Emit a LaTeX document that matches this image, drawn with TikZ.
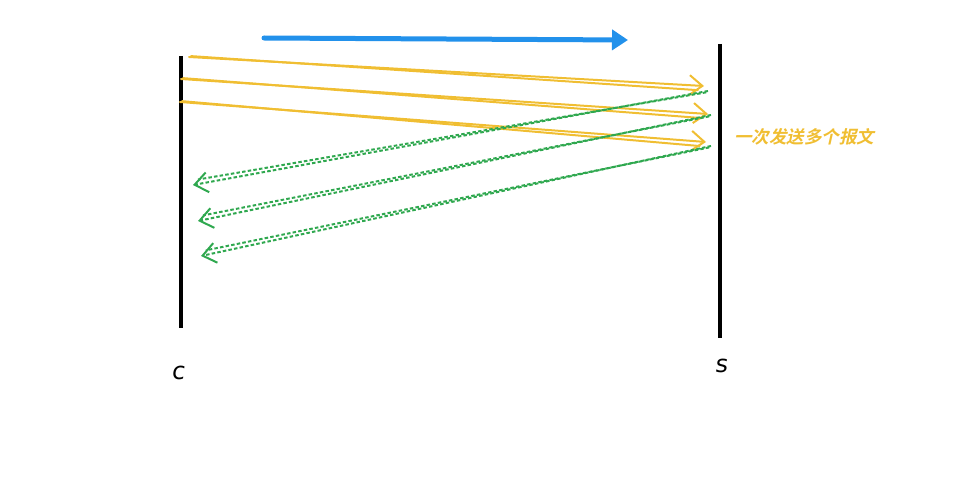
\documentclass[tikz,border=0pt]{standalone}
\usepackage{fontspec}
\usepackage{tikz}
\usetikzlibrary{arrows.meta,calc}
\newfontfamily\cjkfont[FakeSlant=0.22]{Noto Sans CJK SC Bold}
\newfontfamily\handfont[FakeSlant=0.12]{DejaVu Sans}
\definecolor{reqcol}{HTML}{F0BE32}
\definecolor{ackcol}{HTML}{2FA84F}
\definecolor{dircol}{HTML}{2291EB}
\tikzset{
  lifeline/.style={draw=black, line width=3.6pt},
  endlabel/.style={font=\handfont\fontsize{24}{26}\selectfont, inner sep=0pt},
  note/.style  ={font=\cjkfont\fontsize{17.5}{20}\selectfont, text=reqcol, inner sep=0pt},
  dirarrow/.style={draw=dircol, line width=5pt, line cap=round,
                 -{Triangle[length=16pt,width=20pt]}},
  req/.style   ={draw=reqcol, line width=2pt, line cap=round},
  ack/.style   ={draw=ackcol, line width=2pt, dash pattern=on 3.5pt off 2.2pt},
  barb/.style  ={-{Straight Barb[length=13pt,width=20pt]}},
}
% each message is drawn twice, a little apart, like a hand stroke
\newcommand{\sketcharrow}[3]{%
  \draw[#1,barb] (#2) -- (#3);
  \draw[#1] ($(#2)!2pt!(#3)!1pt!90:(#3)$) -- ($(#3)!6pt!(#2)!4.5pt!90:(#2)$);}
\def\reqlist{1/189/57/704/86, 2/181/79/708/114, 3/180/102/706/142}
\def\acklist{1/708/91/193/185, 2/711/115/198/221, 3/711/146/201/256}
\begin{document}
\begin{tikzpicture}[x=1pt,y=-1pt]
  \useasboundingbox (0,0) rectangle (962,492);
  \coordinate (ctop) at (181,56);
  \coordinate (cbot) at (181,328);
  \coordinate (stop) at (720,44);
  \coordinate (sbot) at (720,338);
  \draw[lifeline] (ctop) -- (cbot);
  \draw[lifeline] (stop) -- (sbot);
  \node[endlabel] (clab) at (178,373) {c};
  \node[endlabel] (slab) at (721,366) {s};
  \coordinate (dirA) at (264,38);
  \coordinate (dirB) at (628,40);
  \draw[dirarrow] (dirA) -- (dirB);
  \foreach \i/\xa/\ya/\xb/\yb in \reqlist {%
    \coordinate (rq\i a) at (\xa,\ya);
    \coordinate (rq\i b) at (\xb,\yb);
    \sketcharrow{req}{rq\i a}{rq\i b}}
  \foreach \i/\xa/\ya/\xb/\yb in \acklist {%
    \coordinate (ak\i a) at (\xa,\ya);
    \coordinate (ak\i b) at (\xb,\yb);
    \sketcharrow{ack}{ak\i a}{ak\i b}}
  \node[note, anchor=west] (burst) at (734,137) {一次发送多个报文};
\end{tikzpicture}
\end{document}
